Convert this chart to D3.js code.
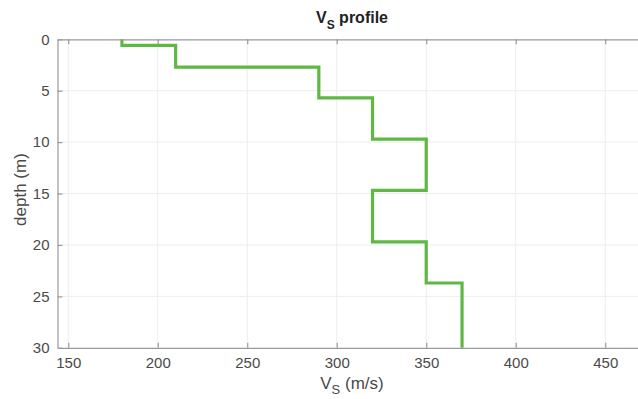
<!DOCTYPE html>
<html>
<head>
<meta charset="utf-8">
<script src="https://d3js.org/d3.v7.min.js"></script>
<style>
  body { margin: 0; background: #fff; }
  svg { display: block; font-family: "Liberation Sans", Arial, sans-serif; }
</style>
</head>
<body>
<div id="chart"></div>
<script>
// layer velocities (m/s) and the depth at which each layer ends (m)
const vsValues = [180, 210, 290, 320, 350, 320, 350, 370];
const layerTops = [0, 0.6, 2.7, 5.7, 9.7, 14.7, 19.7, 23.7];
const layerBottoms = [0.6, 2.7, 5.7, 9.7, 14.7, 19.7, 23.7, 30];
const xTicks = [150, 200, 250, 300, 350, 400, 450];
const yTicks = [0, 5, 10, 15, 20, 25, 30];

const W = 638, H = 399;
const plotLeft = 57.5, plotTop = 39.3, plotBottom = 347.8;

const x = d3.scaleLinear().domain([144, 475]).range([plotLeft, plotLeft + (475 - 144) * 1.79]);
const y = d3.scaleLinear().domain([0, 30]).range([plotTop, plotBottom]);

const svg = d3.select('#chart').append('svg')
    .attr('width', W).attr('height', H);

const plotRight = x.range()[1];

// grid
svg.append('g').selectAll('line')
    .data(xTicks).join('line')
    .attr('x1', d => x(d)).attr('x2', d => x(d))
    .attr('y1', plotTop).attr('y2', plotBottom)
    .attr('stroke', '#ededed').attr('stroke-width', 1);
svg.append('g').selectAll('line')
    .data(yTicks.slice(1, -1)).join('line')
    .attr('x1', plotLeft).attr('x2', plotRight)
    .attr('y1', d => y(d)).attr('y2', d => y(d))
    .attr('stroke', '#ededed').attr('stroke-width', 1);

// step profile
const pts = [];
vsValues.forEach((v, i) => {
    pts.push([v, layerTops[i]]);
    pts.push([v, layerBottoms[i]]);
});
svg.append('path')
    .attr('d', d3.line().x(d => x(d[0])).y(d => y(d[1]))(pts))
    .attr('fill', 'none')
    .attr('stroke', '#5fb744')
    .attr('stroke-width', 3.2)
    .attr('stroke-linejoin', 'miter');

// axes (MATLAB style, inward ticks)
const xAxisB = d3.axisBottom(x).tickValues(xTicks).tickSize(-5).tickPadding(10).tickSizeOuter(0);
const xAxisT = d3.axisTop(x).tickValues(xTicks).tickSize(-5).tickFormat('').tickSizeOuter(0);
const yAxisL = d3.axisLeft(y).tickValues(yTicks).tickSize(-5).tickPadding(8).tickSizeOuter(0);

function styleAxis(g) {
    g.selectAll('path, line').attr('stroke', '#9a9a9a').attr('stroke-width', 1.2);
    g.selectAll('text').attr('fill', '#4a4a4a').attr('font-size', 15);
}
svg.append('g').attr('transform', `translate(0,${plotBottom})`).call(xAxisB).call(styleAxis);
svg.append('g').attr('transform', `translate(0,${plotTop})`).call(xAxisT).call(styleAxis);
svg.append('g').attr('transform', `translate(${plotLeft},0)`).call(yAxisL).call(styleAxis);

// title
const title = svg.append('text')
    .attr('x', 352).attr('y', 23)
    .attr('text-anchor', 'middle')
    .attr('font-size', 16).attr('font-weight', 'bold').attr('fill', '#222');
title.append('tspan').text('V');
title.append('tspan').attr('dy', 6).attr('font-size', 12).text('S');
title.append('tspan').attr('dy', -6).text(' profile');

// x label
const xl = svg.append('text')
    .attr('x', 352).attr('y', 389)
    .attr('text-anchor', 'middle')
    .attr('font-size', 17).attr('fill', '#4a4a4a');
xl.append('tspan').text('V');
xl.append('tspan').attr('dy', 5).attr('font-size', 13).text('S');
xl.append('tspan').attr('dy', -5).text(' (m/s)');

// y label
svg.append('text')
    .attr('transform', `translate(26,${(plotTop + plotBottom) / 2 - 4}) rotate(-90)`)
    .attr('text-anchor', 'middle')
    .attr('font-size', 17).attr('fill', '#4a4a4a')
    .text('depth (m)');
</script>
</body>
</html>
